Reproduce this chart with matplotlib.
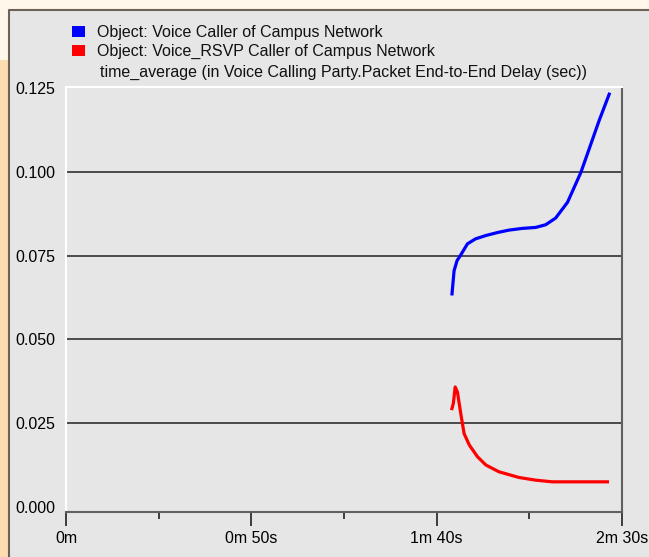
import matplotlib.pyplot as plt
from matplotlib.patches import Rectangle

plt.rcParams['font.family'] = ['Liberation Sans', 'DejaVu Sans']

# simulation time (s) and delay (sec)
blue_t = [104.1, 104.7, 105.5, 106.5, 108.3, 110.5, 113.3, 116.5, 119.5, 123.0, 126.7,
          129.4, 132.1, 135.3, 138.9, 141.1, 143.8, 146.7]
blue_v = [0.0631, 0.0705, 0.0735, 0.0752, 0.0785, 0.0800, 0.0810, 0.0819, 0.0826, 0.0831, 0.0834,
          0.0842, 0.0862, 0.0909, 0.0998, 0.1067, 0.1152, 0.1236]

red_t = [104.0, 104.5, 105.0, 105.6, 106.5, 107.4, 108.8, 111.0, 113.3, 116.8, 122.2,
         126.7, 131.2, 146.5]
red_v = [0.0289, 0.0309, 0.0358, 0.0343, 0.0279, 0.0219, 0.0185, 0.0150, 0.0125, 0.0105, 0.0088,
         0.0080, 0.0075, 0.0075]

x_ticks = [0, 50, 100, 150]
x_labels = ["0m", "0m 50s", "1m 40s", "2m 30s"]
y_ticks = [0.000, 0.025, 0.050, 0.075, 0.100, 0.125]
series_names = ["Object: Voice Caller of Campus Network",
                "Object: Voice_RSVP Caller of Campus Network"]
stat_name = "time_average (in Voice Calling Party.Packet End-to-End Delay (sec))"

W, H = 649, 557
FS = 11.5
fig = plt.figure(figsize=(W / 100, H / 100), dpi=100, facecolor='#fff8ea')

def px(x, y):
    return x / W, 1 - y / H

# window panel
fig.patches.append(Rectangle((0, 0), 9 / W, 1 - 60 / H, transform=fig.transFigure,
                             facecolor='#fcdcb0', edgecolor='none', zorder=0))
fig.patches.append(Rectangle(px(10, 557), 1, 1 - 11 / H, transform=fig.transFigure,
                             facecolor='#e6e6e6', edgecolor='none', zorder=1))
fig.lines.append(plt.Line2D([9 / W, 9 / W, 1], [0, 1 - 10 / H, 1 - 10 / H],
                            transform=fig.transFigure, color='#6e6258', lw=1.5, zorder=2))

ax = fig.add_axes([66 / W, 45 / H, 556 / W, 425 / H])
ax.set_zorder(5)
ax.set_facecolor('#e6e6e6')

ax.plot(blue_t, blue_v, color='#0000ff', lw=2.3, solid_capstyle='butt', zorder=3)
ax.plot(red_t, red_v, color='#ff0000', lw=2.3, solid_capstyle='butt', zorder=3)

for v in y_ticks[1:-1]:
    ax.axhline(v, color='#303030', lw=1.2, zorder=1)

ax.set_xlim(0, 150)
ax.set_ylim(-0.0015, 0.1253)
ax.set_xticks(x_ticks)
ax.set_xticklabels(x_labels)
ax.set_xticks([25, 75, 125], minor=True)
ax.set_yticks(y_ticks)
ax.set_yticklabels(["%.3f" % v for v in y_ticks])
ax.tick_params(axis='x', which='major', length=10, width=1.2, color='#202020',
               pad=4, labelsize=FS)
ax.tick_params(axis='x', which='minor', length=5, width=1.2, color='#202020')
ax.tick_params(axis='y', length=0, pad=8, labelsize=FS)

for s in ['left', 'top']:
    ax.spines[s].set_color('white')
    ax.spines[s].set_linewidth(1.5)
for s in ['right', 'bottom']:
    ax.spines[s].set_color('#606060')
    ax.spines[s].set_linewidth(1.5)

# legend
for i, (name, col) in enumerate(zip(series_names, ['#0000ff', '#ff0000'])):
    y = 26 + i * 19
    fig.patches.append(Rectangle(px(72, y + 11), 13 / W, 11 / H, transform=fig.transFigure,
                                 facecolor=col, edgecolor='none', zorder=3))
    fig.text(*px(97, y + 6), name, fontsize=FS, va='center', ha='left', color='#111111')
fig.text(*px(100, 72), stat_name, fontsize=FS, va='center', ha='left', color='#111111')

fig.savefig('out.png', dpi=100, facecolor=fig.get_facecolor())
